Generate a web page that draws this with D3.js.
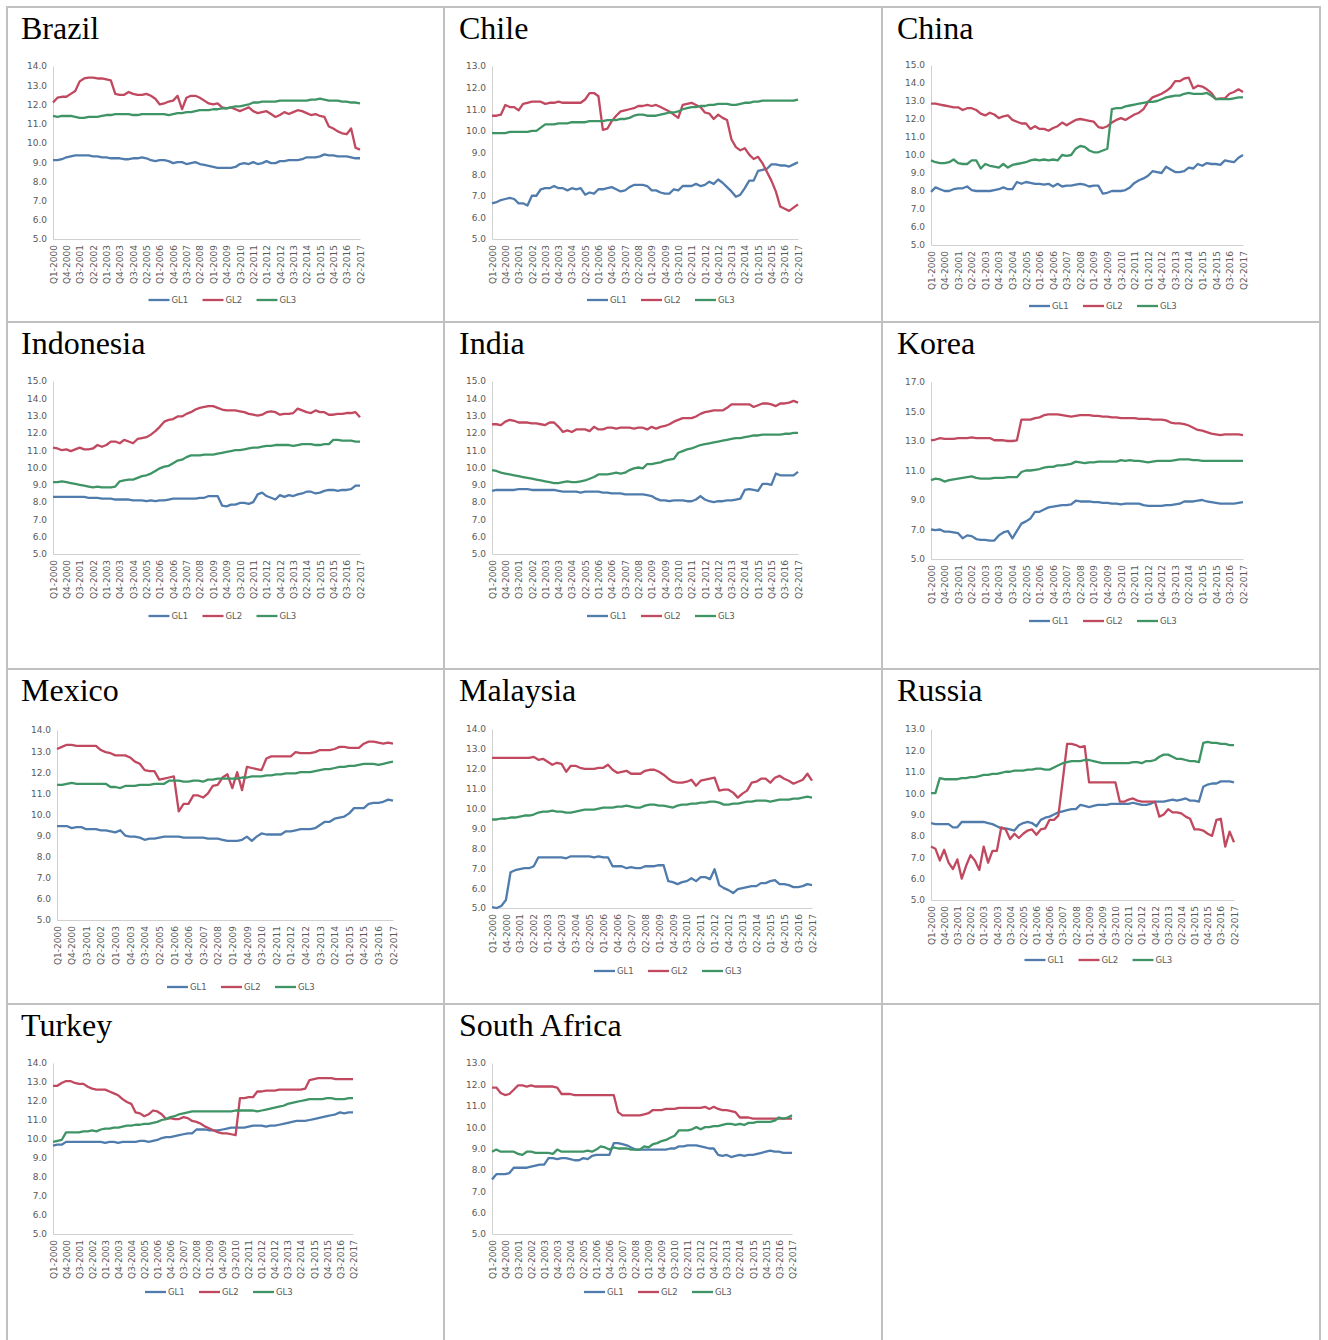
<!DOCTYPE html>
<meta charset="utf-8">
<style>
body { margin: 0; background: #fff; }
.title { font: 32px "Liberation Serif", "Times New Roman", serif; fill: #000; }
.axis text { font: 9px "DejaVu Sans", Verdana, sans-serif; fill: #595959; }
.axis path { stroke: #d0d0d0; stroke-width: 1; }
.legend text { font: 8.5px "DejaVu Sans", Verdana, sans-serif; fill: #595959; }
.grid line { stroke: #c0c0c0; stroke-width: 2; }
</style>
<body>
<svg id="chart" width="1328" height="1340"></svg>
<script src="https://d3js.org/d3.v7.min.js"></script>
<script>

// quarters Q1-2000 .. Q2-2017 (70 categories)
var quarters = [];
for (var yr = 2000; yr <= 2017; yr++)
  for (var q = 1; q <= 4; q++)
    if (!(yr == 2017 && q > 2)) quarters.push("Q" + q + "-" + yr);

var tickLabels = ["Q1-2000","Q4-2000","Q3-2001","Q2-2002","Q1-2003","Q4-2003","Q3-2004","Q2-2005",
  "Q1-2006","Q4-2006","Q3-2007","Q2-2008","Q1-2009","Q4-2009","Q3-2010","Q2-2011","Q1-2012",
  "Q4-2012","Q3-2013","Q2-2014","Q1-2015","Q4-2015","Q3-2016","Q2-2017"];

var seriesNames = ["GL1", "GL2", "GL3"];

// ---- Brazil
var brazilGL1 = [9.1,9.1,9.15,9.25,9.3,9.35,9.35,9.35,9.35,9.3, 9.3,9.25,9.25,9.2,9.2,9.2,9.15,9.15,9.2,9.2,
  9.25,9.2,9.1,9.05,9.1,9.1,9.05,8.95,9.0,9.0, 8.9,8.95,9.0,8.9,8.85,8.8,8.75,8.7,8.7,8.7,
  8.7,8.75,8.9,8.95,8.9,9.0,8.9,8.95,9.05,8.95, 8.95,9.05,9.05,9.1,9.1,9.1,9.15,9.25,9.25,9.25,
  9.3,9.4,9.35,9.35,9.3,9.3,9.3,9.25,9.2,9.2];
var brazilGL2 = [12.1,12.35,12.4,12.4,12.55,12.7,13.2,13.35,13.4,13.4, 13.35,13.35,13.3,13.25,12.55,12.5,12.5,12.65,12.55,12.5,
  12.5,12.55,12.45,12.3,12.0,12.05,12.15,12.2,12.45,11.75, 12.35,12.45,12.45,12.35,12.2,12.05,12.0,12.05,11.85,11.8,
  11.85,11.75,11.65,11.75,11.85,11.65,11.55,11.6,11.65,11.5, 11.35,11.45,11.6,11.5,11.6,11.7,11.65,11.55,11.45,11.5,
  11.4,11.35,10.85,10.75,10.6,10.5,10.45,10.75,9.75,9.65];
var brazilGL3 = [11.4,11.35,11.4,11.4,11.4,11.35,11.3,11.3,11.35,11.35, 11.35,11.4,11.45,11.45,11.5,11.5,11.5,11.5,11.45,11.45,
  11.5,11.5,11.5,11.5,11.5,11.5,11.45,11.5,11.55,11.55, 11.6,11.6,11.65,11.7,11.7,11.7,11.75,11.75,11.8,11.8,
  11.85,11.9,11.9,11.95,12.0,12.1,12.1,12.15,12.15,12.15, 12.15,12.2,12.2,12.2,12.2,12.2,12.2,12.2,12.25,12.25,
  12.3,12.25,12.2,12.2,12.2,12.15,12.15,12.1,12.1,12.05];

// ---- Chile
var chileGL1 = [6.65,6.7,6.8,6.85,6.9,6.85,6.65,6.65,6.55,7.0, 7.0,7.3,7.35,7.35,7.45,7.35,7.35,7.25,7.35,7.3,
  7.35,7.05,7.15,7.1,7.3,7.3,7.35,7.4,7.3,7.2, 7.25,7.4,7.5,7.5,7.5,7.45,7.25,7.25,7.15,7.1,
  7.1,7.3,7.25,7.45,7.45,7.45,7.55,7.45,7.5,7.65, 7.55,7.75,7.6,7.4,7.2,6.95,7.05,7.35,7.7,7.7,
  8.15,8.2,8.25,8.45,8.45,8.4,8.4,8.35,8.45,8.55];
var chileGL2 = [10.7,10.7,10.75,11.2,11.1,11.1,10.95,11.25,11.3,11.35, 11.35,11.35,11.25,11.3,11.3,11.35,11.3,11.3,11.3,11.3,
  11.3,11.45,11.75,11.75,11.6,10.05,10.1,10.45,10.7,10.9, 10.95,11.0,11.05,11.15,11.15,11.2,11.15,11.2,11.1,11.0,
  10.9,10.75,10.6,11.2,11.25,11.3,11.2,11.1,10.85,10.8, 10.55,10.75,10.6,10.5,9.6,9.25,9.1,9.2,8.9,8.7,
  8.8,8.5,8.1,7.7,7.2,6.5,6.4,6.3,6.45,6.6];
var chileGL3 = [9.9,9.9,9.9,9.9,9.95,9.95,9.95,9.95,9.95,10.0, 10.0,10.15,10.3,10.3,10.3,10.35,10.35,10.35,10.4,10.4,
  10.4,10.4,10.45,10.45,10.45,10.45,10.5,10.5,10.5,10.55, 10.55,10.6,10.7,10.75,10.75,10.7,10.7,10.7,10.75,10.8,
  10.85,10.85,10.9,11.0,11.05,11.1,11.1,11.15,11.15,11.2, 11.2,11.25,11.25,11.25,11.2,11.2,11.25,11.3,11.3,11.35,
  11.35,11.4,11.4,11.4,11.4,11.4,11.4,11.4,11.4,11.45];

// ---- China
var chinaGL1 = [7.95,8.2,8.1,8.0,8.0,8.1,8.15,8.15,8.25,8.05, 8.0,8.0,8.0,8.0,8.05,8.1,8.2,8.1,8.1,8.5,
  8.4,8.5,8.45,8.4,8.4,8.35,8.4,8.25,8.4,8.25, 8.3,8.3,8.35,8.4,8.35,8.25,8.3,8.3,7.85,7.9,
  8.0,8.0,8.0,8.05,8.2,8.45,8.6,8.7,8.85,9.1, 9.05,9.0,9.35,9.2,9.05,9.05,9.1,9.3,9.25,9.5,
  9.4,9.55,9.5,9.5,9.45,9.7,9.65,9.6,9.85,10.0];
var chinaGL2 = [12.85,12.85,12.8,12.75,12.7,12.65,12.65,12.5,12.6,12.6, 12.5,12.3,12.2,12.35,12.25,12.05,12.15,12.2,11.95,11.85,
  11.75,11.75,11.45,11.6,11.45,11.45,11.35,11.5,11.6,11.8, 11.65,11.8,11.95,12.0,11.95,11.9,11.85,11.55,11.5,11.6,
  11.8,11.95,12.05,11.95,12.1,12.25,12.35,12.55,12.95,13.2, 13.3,13.4,13.55,13.75,14.1,14.1,14.25,14.3,13.7,13.85,
  13.8,13.65,13.45,13.1,13.15,13.15,13.4,13.5,13.65,13.5];
var chinaGL3 = [9.7,9.6,9.55,9.55,9.6,9.75,9.55,9.5,9.5,9.7, 9.7,9.25,9.5,9.4,9.35,9.3,9.5,9.3,9.45,9.5,
  9.55,9.6,9.7,9.75,9.7,9.75,9.7,9.75,9.7,10.0, 9.95,10.0,10.35,10.5,10.45,10.25,10.15,10.15,10.25,10.35,
  12.55,12.6,12.6,12.7,12.75,12.8,12.85,12.9,12.95,12.95, 13.0,13.1,13.2,13.25,13.3,13.3,13.4,13.45,13.4,13.4,
  13.4,13.45,13.3,13.1,13.1,13.1,13.1,13.15,13.2,13.2];

// ---- Indonesia
var indonesiaGL1 = [8.3,8.3,8.3,8.3,8.3,8.3,8.3,8.3,8.25,8.25, 8.25,8.2,8.2,8.2,8.15,8.15,8.15,8.15,8.1,8.1,
  8.1,8.05,8.1,8.05,8.1,8.1,8.15,8.2,8.2,8.2, 8.2,8.2,8.2,8.25,8.25,8.35,8.35,8.35,7.8,7.75,
  7.85,7.85,7.95,7.95,7.9,8.0,8.45,8.55,8.35,8.25, 8.15,8.4,8.3,8.4,8.35,8.45,8.5,8.6,8.6,8.5,
  8.55,8.65,8.7,8.7,8.65,8.7,8.7,8.75,8.95,8.95];
var indonesiaGL2 = [11.15,11.1,11.0,11.05,10.95,11.05,11.15,11.05,11.05,11.1, 11.3,11.2,11.3,11.5,11.5,11.4,11.6,11.5,11.4,11.65,
  11.7,11.75,11.9,12.1,12.35,12.65,12.75,12.8,12.95,12.95, 13.1,13.2,13.35,13.45,13.5,13.55,13.55,13.45,13.35,13.3,
  13.3,13.3,13.25,13.2,13.1,13.05,13.0,13.05,13.2,13.25, 13.2,13.05,13.1,13.1,13.15,13.4,13.3,13.2,13.15,13.3,
  13.2,13.2,13.05,13.05,13.1,13.1,13.15,13.15,13.2,12.9];
var indonesiaGL3 = [9.15,9.15,9.2,9.15,9.1,9.05,9.0,8.95,8.9,8.85, 8.9,8.85,8.85,8.85,8.9,9.2,9.25,9.3,9.3,9.4,
  9.5,9.55,9.65,9.8,9.95,10.05,10.1,10.25,10.4,10.45, 10.6,10.7,10.7,10.7,10.75,10.75,10.75,10.8,10.85,10.9,
  10.95,11.0,11.0,11.05,11.1,11.15,11.15,11.2,11.25,11.25, 11.3,11.3,11.3,11.3,11.25,11.3,11.35,11.35,11.35,11.3,
  11.3,11.35,11.35,11.6,11.6,11.55,11.55,11.55,11.5,11.5];

// ---- India
var indiaGL1 = [8.65,8.7,8.7,8.7,8.7,8.7,8.75,8.75,8.75,8.7, 8.7,8.7,8.7,8.7,8.7,8.65,8.6,8.6,8.6,8.6,
  8.55,8.6,8.6,8.6,8.6,8.55,8.55,8.5,8.5,8.5, 8.45,8.45,8.45,8.45,8.45,8.4,8.35,8.2,8.1,8.1,
  8.05,8.1,8.1,8.1,8.05,8.05,8.15,8.35,8.15,8.05, 8.0,8.05,8.05,8.1,8.1,8.15,8.2,8.7,8.75,8.7,
  8.65,9.05,9.05,9.0,9.65,9.55,9.55,9.55,9.55,9.75];
var indiaGL2 = [12.5,12.5,12.45,12.65,12.75,12.7,12.6,12.6,12.6,12.55, 12.55,12.5,12.45,12.6,12.6,12.35,12.05,12.15,12.05,12.2,
  12.2,12.2,12.1,12.35,12.2,12.2,12.3,12.3,12.25,12.3, 12.3,12.3,12.25,12.3,12.3,12.2,12.35,12.25,12.35,12.4,
  12.5,12.65,12.75,12.85,12.85,12.85,12.95,13.1,13.2,13.25, 13.3,13.3,13.3,13.45,13.65,13.65,13.65,13.65,13.65,13.5,
  13.6,13.7,13.7,13.65,13.55,13.7,13.7,13.75,13.85,13.75];
var indiaGL3 = [9.85,9.8,9.7,9.65,9.6,9.55,9.5,9.45,9.4,9.35, 9.3,9.25,9.2,9.15,9.1,9.1,9.15,9.2,9.15,9.15,
  9.2,9.25,9.35,9.45,9.6,9.6,9.6,9.65,9.7,9.65, 9.7,9.85,9.95,10.0,9.95,10.2,10.2,10.25,10.3,10.4,
  10.45,10.5,10.85,10.95,11.05,11.1,11.2,11.3,11.35,11.4, 11.45,11.5,11.55,11.6,11.65,11.7,11.7,11.75,11.8,11.85,
  11.85,11.9,11.9,11.9,11.9,11.9,11.95,11.95,12.0,12.0];

// ---- Korea
var koreaGL1 = [7.0,6.95,7.0,6.85,6.85,6.8,6.75,6.4,6.6,6.55, 6.35,6.3,6.3,6.25,6.25,6.6,6.8,6.9,6.4,6.9,
  7.4,7.55,7.75,8.2,8.2,8.35,8.5,8.55,8.6,8.65, 8.65,8.7,8.95,8.9,8.9,8.9,8.85,8.85,8.8,8.8,
  8.75,8.75,8.7,8.75,8.75,8.75,8.75,8.65,8.6,8.6, 8.6,8.6,8.65,8.65,8.7,8.75,8.9,8.9,8.9,8.95,
  9.0,8.9,8.85,8.8,8.75,8.75,8.75,8.75,8.8,8.85];
var koreaGL2 = [13.05,13.1,13.2,13.15,13.15,13.15,13.2,13.2,13.2,13.25, 13.2,13.2,13.2,13.2,13.05,13.05,13.05,13.0,13.0,13.05,
  14.45,14.45,14.45,14.55,14.6,14.75,14.8,14.8,14.8,14.75, 14.7,14.65,14.7,14.75,14.75,14.75,14.7,14.7,14.65,14.65,
  14.6,14.6,14.55,14.55,14.55,14.55,14.5,14.5,14.5,14.45, 14.45,14.45,14.4,14.25,14.2,14.2,14.15,14.05,13.9,13.75,
  13.7,13.6,13.5,13.45,13.4,13.45,13.45,13.45,13.45,13.4];
var koreaGL3 = [10.35,10.45,10.4,10.25,10.35,10.4,10.45,10.5,10.55,10.6, 10.5,10.45,10.45,10.45,10.5,10.5,10.5,10.55,10.55,10.55,
  10.9,11.0,11.0,11.05,11.1,11.2,11.25,11.25,11.35,11.35, 11.4,11.45,11.6,11.55,11.5,11.55,11.55,11.6,11.6,11.6,
  11.6,11.6,11.7,11.65,11.7,11.65,11.65,11.6,11.55,11.6, 11.65,11.65,11.65,11.65,11.7,11.75,11.75,11.75,11.7,11.7,
  11.65,11.65,11.65,11.65,11.65,11.65,11.65,11.65,11.65,11.65];

// ---- Mexico
var mexicoGL1 = [9.45,9.45,9.45,9.35,9.4,9.4,9.3,9.3,9.3,9.25, 9.25,9.2,9.15,9.25,9.0,8.95,8.95,8.9,8.8,8.85,
  8.85,8.9,8.95,8.95,8.95,8.95,8.9,8.9,8.9,8.9, 8.9,8.85,8.85,8.85,8.8,8.75,8.75,8.75,8.8,8.95,
  8.75,8.95,9.1,9.05,9.05,9.05,9.05,9.2,9.2,9.25, 9.3,9.3,9.3,9.35,9.5,9.65,9.65,9.8,9.85,9.9,
  10.05,10.3,10.3,10.3,10.5,10.55,10.55,10.6,10.7,10.65];
var mexicoGL2 = [13.1,13.2,13.3,13.3,13.25,13.25,13.25,13.25,13.25,13.05, 12.95,12.9,12.8,12.8,12.8,12.7,12.5,12.4,12.1,12.05,
  12.05,11.65,11.7,11.75,11.8,10.15,10.5,10.5,10.9,10.9, 10.8,11.0,11.35,11.4,11.75,11.9,11.25,12.0,11.15,12.25,
  12.2,12.15,12.1,12.65,12.75,12.75,12.75,12.75,12.75,12.95, 12.9,12.9,12.9,12.95,13.05,13.05,13.05,13.1,13.2,13.2,
  13.15,13.15,13.15,13.35,13.45,13.45,13.4,13.35,13.4,13.35];
var mexicoGL3 = [11.4,11.4,11.45,11.5,11.45,11.45,11.45,11.45,11.45,11.45, 11.45,11.3,11.3,11.25,11.35,11.35,11.35,11.4,11.4,11.4,
  11.45,11.45,11.45,11.6,11.6,11.6,11.55,11.55,11.6,11.6, 11.55,11.65,11.65,11.7,11.7,11.7,11.7,11.7,11.75,11.75,
  11.8,11.8,11.8,11.85,11.85,11.9,11.9,11.95,11.95,11.95, 12.0,12.0,12.0,12.05,12.1,12.15,12.15,12.2,12.25,12.25,
  12.3,12.3,12.35,12.4,12.4,12.4,12.35,12.4,12.45,12.5];

// ---- Malaysia
var malaysiaGL1 = [5.05,5.0,5.1,5.4,6.8,6.9,6.95,7.0,7.0,7.1, 7.55,7.55,7.55,7.55,7.55,7.55,7.5,7.6,7.6,7.6,
  7.6,7.6,7.55,7.6,7.55,7.55,7.1,7.1,7.1,7.0, 7.05,7.0,7.0,7.1,7.1,7.1,7.15,7.15,6.35,6.3,
  6.2,6.3,6.35,6.5,6.35,6.55,6.55,6.45,6.95,6.15, 6.0,5.9,5.75,5.95,6.0,6.05,6.1,6.1,6.25,6.25,
  6.35,6.4,6.2,6.2,6.15,6.05,6.05,6.1,6.2,6.15];
var malaysiaGL2 = [12.55,12.55,12.55,12.55,12.55,12.55,12.55,12.55,12.55,12.6, 12.45,12.5,12.35,12.2,12.3,12.25,11.85,12.15,12.15,12.05,
  12.0,12.0,12.0,12.05,12.05,12.2,11.95,11.8,11.85,11.9, 11.75,11.75,11.75,11.9,11.95,11.95,11.85,11.7,11.5,11.35,
  11.3,11.3,11.35,11.45,11.15,11.4,11.45,11.5,11.55,10.9, 10.95,10.95,10.8,10.55,10.75,10.9,11.3,11.35,11.5,11.5,
  11.3,11.55,11.65,11.5,11.4,11.25,11.35,11.45,11.75,11.4];
var malaysiaGL3 = [9.45,9.45,9.5,9.5,9.55,9.55,9.6,9.65,9.65,9.7, 9.8,9.85,9.85,9.9,9.85,9.85,9.8,9.8,9.85,9.9,
  9.95,9.95,9.95,10.0,10.05,10.05,10.05,10.1,10.1,10.15, 10.1,10.05,10.05,10.15,10.2,10.2,10.15,10.15,10.1,10.05,
  10.15,10.2,10.2,10.25,10.25,10.3,10.3,10.35,10.35,10.3, 10.2,10.2,10.25,10.25,10.3,10.35,10.35,10.4,10.4,10.4,
  10.35,10.4,10.45,10.45,10.45,10.5,10.5,10.55,10.6,10.55];

// ---- Russia
var russiaGL1 = [8.6,8.55,8.55,8.55,8.55,8.4,8.4,8.65,8.65,8.65, 8.65,8.65,8.65,8.6,8.55,8.45,8.35,8.35,8.3,8.25,
  8.5,8.6,8.65,8.6,8.45,8.75,8.85,8.9,9.0,9.1, 9.15,9.2,9.25,9.25,9.45,9.4,9.35,9.4,9.45,9.45,
  9.45,9.5,9.5,9.5,9.5,9.5,9.55,9.5,9.45,9.45, 9.5,9.6,9.6,9.6,9.65,9.7,9.65,9.7,9.75,9.65,
  9.65,9.6,10.3,10.4,10.45,10.45,10.55,10.55,10.55,10.5];
var russiaGL2 = [7.5,7.4,6.85,7.35,6.75,6.45,6.9,6.0,6.6,7.1, 6.85,6.4,7.5,6.75,7.3,7.3,8.4,8.3,7.85,8.1,
  7.9,8.1,8.25,8.3,8.05,8.3,8.35,8.75,8.75,8.95, 10.6,12.3,12.3,12.25,12.15,12.2,10.5,10.5,10.5,10.5,
  10.5,10.5,10.5,9.6,9.6,9.7,9.75,9.65,9.6,9.6, 9.6,9.6,8.9,9.0,9.25,9.1,9.1,9.05,8.9,8.8,
  8.3,8.3,8.25,8.1,8.0,8.75,8.8,7.5,8.2,7.7];
var russiaGL3 = [10.0,10.0,10.7,10.65,10.65,10.65,10.65,10.7,10.7,10.75, 10.75,10.8,10.85,10.85,10.9,10.9,10.95,11.0,11.0,11.05,
  11.05,11.05,11.1,11.1,11.15,11.15,11.1,11.1,11.2,11.3, 11.4,11.45,11.5,11.5,11.5,11.55,11.55,11.5,11.45,11.4,
  11.4,11.4,11.4,11.4,11.4,11.4,11.45,11.45,11.4,11.5, 11.5,11.55,11.7,11.8,11.8,11.7,11.6,11.6,11.55,11.5,
  11.5,11.45,12.35,12.4,12.35,12.35,12.3,12.3,12.25,12.25];

// ---- Turkey
var turkeyGL1 = [9.65,9.7,9.7,9.85,9.85,9.85,9.85,9.85,9.85,9.85, 9.85,9.85,9.8,9.85,9.85,9.8,9.85,9.85,9.85,9.85,
  9.9,9.9,9.85,9.9,9.95,10.05,10.1,10.1,10.15,10.2, 10.25,10.3,10.3,10.5,10.5,10.5,10.45,10.45,10.45,10.5,
  10.55,10.6,10.6,10.6,10.6,10.65,10.7,10.7,10.7,10.65, 10.7,10.7,10.75,10.8,10.85,10.9,10.95,10.95,10.95,11.0,
  11.05,11.1,11.15,11.2,11.25,11.3,11.4,11.35,11.4,11.4];
var turkeyGL2 = [12.8,12.8,12.95,13.05,13.05,12.95,12.9,12.9,12.75,12.65, 12.6,12.6,12.6,12.5,12.4,12.3,12.1,11.95,11.85,11.4,
  11.35,11.2,11.3,11.5,11.45,11.3,11.05,11.1,11.05,11.05, 11.15,11.1,10.95,10.9,10.8,10.65,10.55,10.45,10.35,10.3,
  10.3,10.25,10.2,12.15,12.15,12.2,12.2,12.5,12.5,12.55, 12.55,12.55,12.6,12.6,12.6,12.6,12.6,12.6,12.65,13.1,
  13.15,13.2,13.2,13.2,13.2,13.15,13.15,13.15,13.15,13.15];
var turkeyGL3 = [9.85,9.9,9.95,10.35,10.35,10.35,10.35,10.4,10.4,10.45, 10.4,10.5,10.55,10.55,10.6,10.6,10.65,10.7,10.7,10.75,
  10.75,10.8,10.8,10.85,10.9,11.0,11.05,11.15,11.2,11.3, 11.35,11.4,11.45,11.45,11.45,11.45,11.45,11.45,11.45,11.45,
  11.45,11.45,11.5,11.5,11.5,11.5,11.5,11.45,11.5,11.55, 11.6,11.65,11.7,11.75,11.85,11.9,11.95,12.0,12.05,12.1,
  12.1,12.1,12.1,12.15,12.15,12.1,12.1,12.1,12.15,12.15];

// ---- South Africa
var southAfricaGL1 = [7.55,7.8,7.8,7.8,7.85,8.1,8.1,8.1,8.1,8.15, 8.2,8.25,8.25,8.55,8.55,8.5,8.55,8.55,8.5,8.45,
  8.45,8.55,8.5,8.65,8.7,8.7,8.7,8.7,9.25,9.25, 9.2,9.15,9.05,8.95,8.95,8.95,8.95,8.95,8.95,8.95,
  8.95,9.0,9.0,9.1,9.1,9.15,9.15,9.15,9.1,9.05, 9.0,9.0,8.7,8.65,8.7,8.6,8.65,8.7,8.65,8.7,
  8.7,8.75,8.8,8.85,8.9,8.85,8.85,8.8,8.8,8.8];
var southAfricaGL2 = [11.85,11.85,11.6,11.5,11.55,11.75,11.95,11.95,11.9,11.95, 11.9,11.9,11.9,11.9,11.9,11.85,11.55,11.55,11.55,11.5,
  11.5,11.5,11.5,11.5,11.5,11.5,11.5,11.5,11.5,10.7, 10.55,10.55,10.55,10.55,10.55,10.6,10.65,10.8,10.8,10.8,
  10.85,10.85,10.85,10.9,10.9,10.9,10.9,10.9,10.9,10.95, 10.85,10.95,10.85,10.8,10.8,10.75,10.7,10.45,10.45,10.45,
  10.4,10.4,10.4,10.4,10.4,10.4,10.4,10.4,10.4,10.4];
var southAfricaGL3 = [8.85,8.95,8.85,8.85,8.85,8.85,8.75,8.7,8.85,8.85, 8.8,8.8,8.8,8.8,8.75,8.95,8.85,8.85,8.85,8.85,
  8.85,8.85,8.9,8.85,8.95,9.1,9.05,8.95,9.05,9.0, 9.0,9.0,8.95,8.95,8.95,9.1,9.05,9.2,9.25,9.35,
  9.4,9.5,9.6,9.85,9.85,9.85,9.9,10.0,9.9,10.0, 10.0,10.05,10.05,10.1,10.15,10.15,10.1,10.15,10.1,10.2,
  10.2,10.25,10.25,10.25,10.25,10.3,10.45,10.4,10.45,10.55];

var colors = ["#4f7cac", "#c0485f", "#3f9466"];

// panel table: data + layout (plot box left, top, right, bottom; y range; legend row)
var panels = [
  {name: "Brazil",       data: [brazilGL1, brazilGL2, brazilGL3],       col: 0, row: 0, box: [53, 66, 360, 239],  y: [5, 14, 1], legendY: 300},
  {name: "Chile",        data: [chileGL1, chileGL2, chileGL3],          col: 1, row: 0, box: [492, 66, 798, 239], y: [5, 13, 1], legendY: 300},
  {name: "China",        data: [chinaGL1, chinaGL2, chinaGL3],          col: 2, row: 0, box: [931, 65, 1243, 245], y: [5, 15, 1], legendY: 306},
  {name: "Indonesia",    data: [indonesiaGL1, indonesiaGL2, indonesiaGL3], col: 0, row: 1, box: [53, 381, 360, 554], y: [5, 15, 1], legendY: 616},
  {name: "India",        data: [indiaGL1, indiaGL2, indiaGL3],          col: 1, row: 1, box: [492, 381, 798, 554], y: [5, 15, 1], legendY: 616},
  {name: "Korea",        data: [koreaGL1, koreaGL2, koreaGL3],          col: 2, row: 1, box: [931, 382, 1243, 559], y: [5, 17, 2], legendY: 621},
  {name: "Mexico",       data: [mexicoGL1, mexicoGL2, mexicoGL3],       col: 0, row: 2, box: [57, 730, 393, 920], y: [5, 14, 1], legendY: 987},
  {name: "Malaysia",     data: [malaysiaGL1, malaysiaGL2, malaysiaGL3], col: 1, row: 2, box: [492, 729, 812, 908], y: [5, 14, 1], legendY: 971},
  {name: "Russia",       data: [russiaGL1, russiaGL2, russiaGL3],       col: 2, row: 2, box: [931, 729, 1234, 900], y: [5, 13, 1], legendY: 960},
  {name: "Turkey",       data: [turkeyGL1, turkeyGL2, turkeyGL3],       col: 0, row: 3, box: [53, 1063, 353, 1234], y: [5, 14, 1], legendY: 1292},
  {name: "South Africa", data: [southAfricaGL1, southAfricaGL2, southAfricaGL3], col: 1, row: 3, box: [492, 1063, 792, 1234], y: [5, 13, 1], legendY: 1292}
];

var colX = [21, 459, 897],
    rowBase = [39, 354, 701, 1036];

var svg = d3.select("#chart");

// table borders
var grid = svg.append("g").attr("class", "grid");
[7, 444, 882, 1320].forEach(function(x) {
  grid.append("line").attr("x1", x).attr("x2", x).attr("y1", 6).attr("y2", 1340);
});
[7, 322, 669, 1004].forEach(function(y) {
  grid.append("line").attr("x1", 6).attr("x2", 1321).attr("y1", y).attr("y2", y);
});

panels.forEach(function(p) {
  p.data.forEach(function(s, k) {
    if (s.length != quarters.length) console.error(p.name + " " + seriesNames[k] + " has " + s.length);
  });

  var g = svg.append("g");

  g.append("text")
      .attr("class", "title")
      .attr("x", colX[p.col])
      .attr("y", rowBase[p.row])
      .text(p.name);

  var x = d3.scalePoint().domain(quarters).range([p.box[0], p.box[2]]),
      y = d3.scaleLinear().domain([p.y[0], p.y[1]]).range([p.box[3], p.box[1]]);

  g.append("g")
      .attr("class", "axis axis--y")
      .attr("transform", "translate(" + p.box[0] + ",0)")
      .call(d3.axisLeft(y)
        .tickValues(d3.range(p.y[0], p.y[1] + 0.001, p.y[2]))
        .tickFormat(d3.format(".1f"))
        .tickSize(0)
        .tickPadding(6));

  var xa = g.append("g")
      .attr("class", "axis axis--x")
      .attr("transform", "translate(0," + p.box[3] + ")")
      .call(d3.axisBottom(x).tickValues(tickLabels).tickSize(0));
  xa.select(".domain").attr("stroke", "#bfbfbf");
  xa.selectAll("text")
      .attr("transform", "rotate(-90)")
      .attr("text-anchor", "end")
      .attr("x", -6)
      .attr("y", 0)
      .attr("dy", "0.35em");

  var line = d3.line()
      .x(function(d, i) { return x(quarters[i]); })
      .y(function(d) { return y(d); });

  g.selectAll(".series")
      .data(p.data)
    .enter().append("path")
      .attr("class", "series")
      .attr("fill", "none")
      .attr("stroke", function(d, i) { return colors[i]; })
      .attr("stroke-width", 2.3)
      .attr("stroke-linejoin", "round")
      .attr("d", line);

  // legend
  var cx = (p.box[0] + p.box[2]) / 2 + 15;
  var legend = g.selectAll(".legend")
      .data(seriesNames)
    .enter().append("g")
      .attr("class", "legend")
      .attr("transform", function(d, i) { return "translate(" + (cx - 73 + i * 54) + "," + p.legendY + ")"; });
  legend.append("line")
      .attr("x1", 0).attr("x2", 21)
      .attr("stroke", function(d, i) { return colors[i]; })
      .attr("stroke-width", 2.3);
  legend.append("text")
      .attr("x", 23)
      .attr("dy", "0.35em")
      .text(function(d) { return d; });
});

</script>
</body>
</html>
